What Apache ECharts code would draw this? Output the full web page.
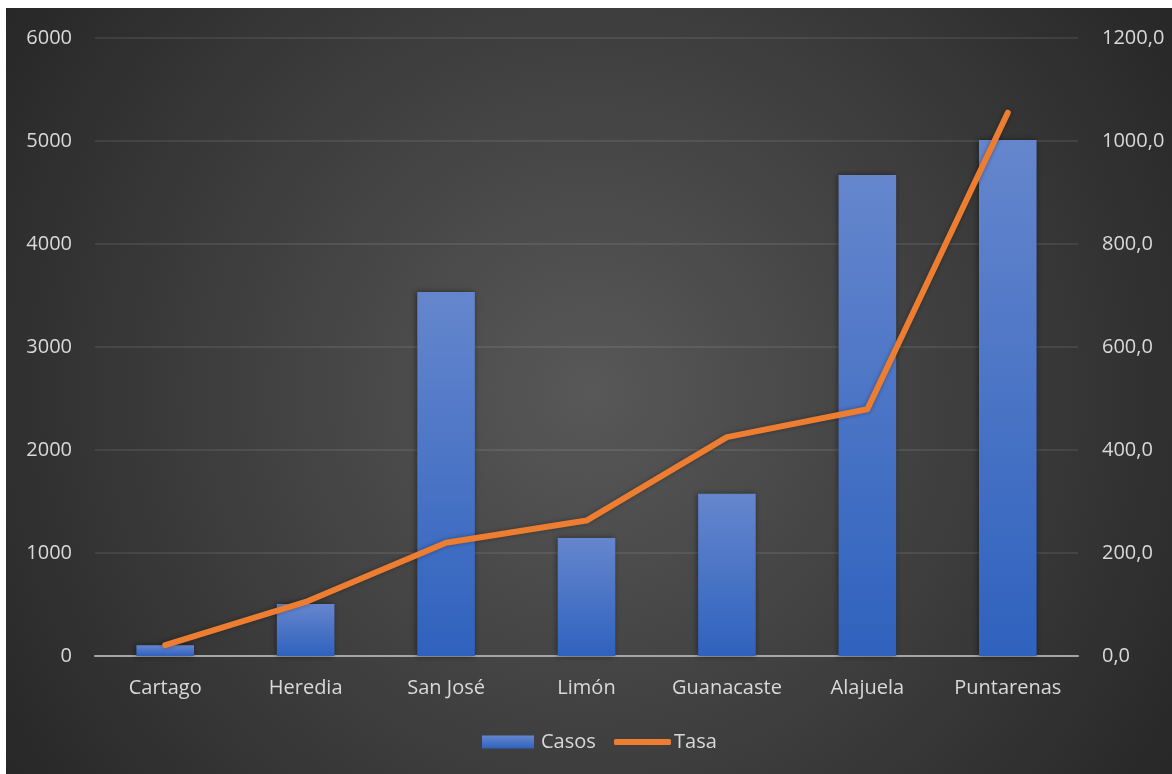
<!DOCTYPE html>
<html>
<head>
<meta charset="utf-8">
<script src="https://cdn.jsdelivr.net/npm/echarts@6/dist/echarts.min.js"></script>
<style>
  html, body { margin: 0; padding: 0; background: #ffffff; width: 1172px; height: 774px; overflow: hidden; }
  #chart { position: absolute; left: 6px; top: 8px; width: 1166px; height: 766px; }
</style>
</head>
<body>
<div id="chart"></div>
<script>
// Provinces, ordered by rate
const provincias = ['Cartago', 'Heredia', 'San José', 'Limón', 'Guanacaste', 'Alajuela', 'Puntarenas'];
// Number of cases per province (left axis)
const casos = [105, 505, 3535, 1145, 1575, 4670, 5010];
// Rate per province (right axis)
const tasa = [21, 105, 220, 263, 425, 479, 1055];

const FONT = '"Open Sans", "Noto Sans", sans-serif';
const TEXT = '#d9d9d9';

const chart = echarts.init(document.getElementById('chart'), null, { renderer: 'canvas' });

chart.setOption({
  animation: false,
  backgroundColor: new echarts.graphic.RadialGradient(0.5, 0.5, 0.95, [
    { offset: 0, color: '#585858' },
    { offset: 1, color: '#252525' }
  ]),
  grid: { left: 89, right: 94, top: 30, bottom: 118, containLabel: false },
  legend: [
    {
      data: [{ name: 'Casos', icon: 'rect' }],
      left: 476, top: 724, padding: 0,
      itemWidth: 52, itemHeight: 13,
      textStyle: { color: TEXT, fontFamily: FONT, fontSize: 20, padding: [0, 0, 0, 2] }
    },
    {
      data: [{ name: 'Tasa', icon: 'roundRect' }],
      left: 608, top: 724, padding: 0,
      itemWidth: 57, itemHeight: 6,
      itemStyle: { color: '#ed7d31' },
      textStyle: { color: TEXT, fontFamily: FONT, fontSize: 20, padding: [0, 0, 0, -2] }
    }
  ],
  xAxis: {
    type: 'category',
    data: provincias,
    axisLine: { lineStyle: { color: '#a6a6a6', width: 2 } },
    axisTick: { show: false },
    axisLabel: { color: TEXT, fontFamily: FONT, fontSize: 20, margin: 22, interval: 0 }
  },
  yAxis: [
    {
      type: 'value', min: 0, max: 6000, interval: 1000,
      axisLine: { show: false }, axisTick: { show: false },
      splitLine: { lineStyle: { color: 'rgba(255,255,255,0.11)', width: 1.5 } },
      axisLabel: {
        color: TEXT, fontFamily: FONT, fontSize: 20, margin: 23,
        formatter: v => String(v)
      }
    },
    {
      type: 'value', min: 0, max: 1200, interval: 200,
      axisLine: { show: false }, axisTick: { show: false },
      splitLine: { show: false },
      axisLabel: {
        color: TEXT, fontFamily: FONT, fontSize: 20, margin: 24,
        formatter: v => v.toFixed(1).replace('.', ',')
      }
    }
  ],
  series: [
    {
      name: 'Casos',
      type: 'bar',
      data: casos,
      yAxisIndex: 0,
      barCategoryGap: '59%',
      itemStyle: {
        color: new echarts.graphic.LinearGradient(0, 0, 0, 1, [
          { offset: 0, color: '#6586cd' },
          { offset: 1, color: '#2f62be' }
        ]),
        shadowColor: 'rgba(0,0,0,0.45)',
        shadowBlur: 6,
        shadowOffsetX: -1
      }
    },
    {
      name: 'Tasa',
      type: 'line',
      data: tasa,
      yAxisIndex: 1,
      showSymbol: false,
      symbol: 'none',
      itemStyle: { color: '#ed7d31' },
      lineStyle: {
        color: '#ed7d31', width: 6, cap: 'round', join: 'round',
        shadowColor: 'rgba(0,0,0,0.35)', shadowBlur: 4
      }
    }
  ]
});
</script>
</body>
</html>
